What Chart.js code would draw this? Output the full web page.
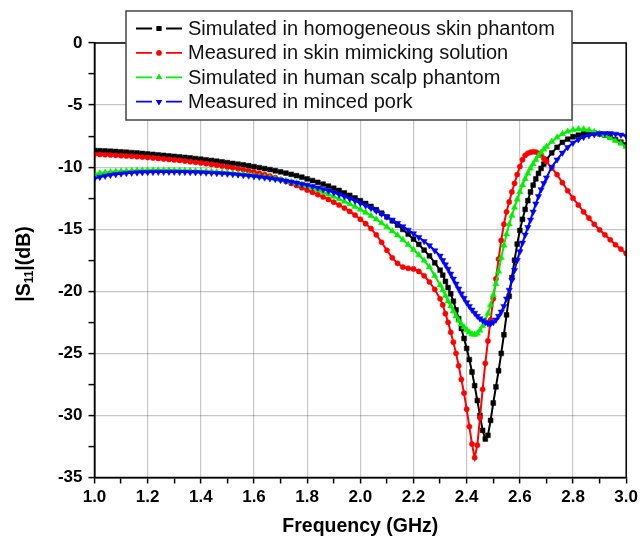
<!DOCTYPE html>
<html><head><meta charset="utf-8">
<script src="https://cdn.jsdelivr.net/npm/chart.js@4.4.1/dist/chart.umd.min.js"></script>
<style>html,body{margin:0;padding:0;background:#fff;}#wrap{width:642px;height:540px;}</style>
</head><body><div id="wrap"><canvas id="c" width="642" height="540"></canvas></div>
<script>
// Frequency (GHz) sample points
const freq = [
1.00,1.02,1.04,1.06,1.08,1.10,1.12,1.14,1.16,1.18,
1.20,1.22,1.24,1.26,1.28,1.30,1.32,1.34,1.36,1.38,
1.40,1.42,1.44,1.46,1.48,1.50,1.52,1.54,1.56,1.58,
1.60,1.62,1.64,1.66,1.68,1.70,1.72,1.74,1.76,1.78,
1.80,1.82,1.84,1.86,1.88,1.90,1.92,1.94,1.96,1.98,
2.00,2.02,2.04,2.06,2.08,2.10,2.12,2.14,2.16,2.18,
2.20,2.22,2.24,2.26,2.28,2.30,
2.31,2.32,2.33,2.34,2.35,2.36,2.37,2.38,2.39,2.40,
2.41,2.42,2.43,2.44,2.45,2.46,2.47,2.48,2.49,2.50,
2.51,2.52,2.53,2.54,2.55,2.56,2.57,2.58,2.59,2.60,
2.61,2.62,2.63,2.64,2.65,2.66,2.67,2.68,2.69,2.70,
2.72,2.74,2.76,2.78,2.80,2.82,2.84,2.86,2.88,2.90,2.92,2.94,2.96,2.98,3.00];

// |S11| (dB) — simulated in homogeneous skin phantom
const simSkin = [
-8.66,-8.68,-8.70,-8.72,-8.74,-8.77,-8.80,-8.83,-8.86,-8.90,
-8.94,-8.97,-9.01,-9.05,-9.09,-9.13,-9.17,-9.21,-9.26,-9.31,
-9.36,-9.41,-9.46,-9.52,-9.58,-9.64,-9.70,-9.76,-9.82,-9.89,
-9.96,-10.04,-10.12,-10.20,-10.29,-10.38,-10.48,-10.58,-10.69,-10.81,
-10.95,-11.08,-11.22,-11.37,-11.53,-11.70,-11.88,-12.07,-12.27,-12.48,
-12.70,-12.93,-13.17,-13.43,-13.70,-14.00,-14.32,-14.66,-15.02,-15.40,
-15.80,-16.22,-16.68,-17.15,-17.70,-18.30,
-18.7,-19.2,-19.7,-20.2,-20.8,-21.5,-22.2,-23.0,-23.8,-24.6,
-25.5,-26.5,-27.6,-28.8,-30.0,-31.2,-31.9,-31.6,-30.4,-29.0,
-27.7,-26.4,-25.0,-23.5,-21.9,-20.4,-18.9,-17.5,-16.2,-15.1,
-14.2,-13.4,-12.7,-12.0,-11.45,-10.95,-10.5,-10.1,-9.75,-9.4,
-8.85,-8.4,-8.0,-7.75,-7.55,-7.42,-7.32,-7.27,-7.27,-7.32,-7.42,-7.58,-7.78,-7.98,-8.2];

// measured in skin mimicking solution
const measSolution = [
-8.96,-8.98,-9.00,-9.02,-9.05,-9.08,-9.10,-9.13,-9.16,-9.19,
-9.22,-9.26,-9.30,-9.34,-9.38,-9.42,-9.46,-9.51,-9.56,-9.61,
-9.66,-9.72,-9.78,-9.84,-9.91,-9.98,-10.05,-10.13,-10.21,-10.29,
-10.38,-10.49,-10.60,-10.72,-10.85,-11.00,-11.15,-11.31,-11.48,-11.66,
-11.85,-12.03,-12.21,-12.40,-12.60,-12.82,-13.05,-13.30,-13.57,-13.86,
-14.20,-14.55,-14.95,-15.45,-16.05,-16.70,-17.30,-17.75,-18.05,-18.15,
-18.20,-18.40,-18.75,-19.25,-19.85,-20.60,
-21.1,-21.8,-22.5,-23.3,-24.1,-25.0,-26.0,-27.1,-28.2,-29.5,
-30.9,-32.3,-33.4,-32.4,-30.2,-27.9,-25.8,-24.0,-22.3,-20.6,
-19.0,-17.4,-15.9,-14.6,-13.6,-12.8,-12.0,-11.3,-10.6,-9.95,
-9.4,-9.05,-8.88,-8.8,-8.76,-8.78,-8.88,-9.05,-9.3,-9.55,
-10.05,-10.6,-11.25,-11.9,-12.5,-13.05,-13.6,-14.1,-14.6,-15.05,-15.45,-15.85,-16.25,-16.6,-16.95];

// simulated in human scalp phantom
const simScalp = [
-10.55,-10.48,-10.43,-10.39,-10.36,-10.33,-10.31,-10.29,-10.28,-10.27,
-10.26,-10.25,-10.25,-10.25,-10.25,-10.26,-10.27,-10.28,-10.29,-10.31,
-10.33,-10.35,-10.37,-10.40,-10.43,-10.46,-10.50,-10.54,-10.58,-10.63,
-10.68,-10.74,-10.80,-10.87,-10.94,-11.02,-11.10,-11.19,-11.29,-11.40,
-11.52,-11.67,-11.83,-12.00,-12.18,-12.37,-12.57,-12.77,-12.97,-13.18,
-13.40,-13.65,-13.92,-14.20,-14.50,-14.82,-15.15,-15.49,-15.85,-16.24,
-16.65,-17.07,-17.52,-18.05,-18.75,-19.50,
-19.9,-20.35,-20.8,-21.2,-21.6,-22.0,-22.35,-22.65,-22.9,-23.1,
-23.3,-23.45,-23.5,-23.4,-23.15,-22.8,-22.35,-21.8,-21.1,-20.3,
-19.4,-18.4,-17.3,-16.3,-15.4,-14.6,-13.9,-13.25,-12.6,-12.0,
-11.45,-10.95,-10.5,-10.1,-9.75,-9.4,-9.1,-8.82,-8.57,-8.35,
-7.95,-7.6,-7.32,-7.13,-7.0,-6.94,-6.94,-7.02,-7.15,-7.28,-7.45,-7.65,-7.88,-8.1,-8.35];

// measured in minced pork
const measPork = [
-10.92,-10.80,-10.71,-10.64,-10.58,-10.53,-10.49,-10.46,-10.44,-10.42,
-10.41,-10.40,-10.39,-10.39,-10.39,-10.39,-10.40,-10.40,-10.41,-10.42,
-10.43,-10.45,-10.47,-10.49,-10.51,-10.54,-10.57,-10.61,-10.65,-10.69,
-10.74,-10.79,-10.85,-10.91,-10.97,-11.04,-11.11,-11.19,-11.27,-11.36,
-11.45,-11.55,-11.66,-11.78,-11.91,-12.05,-12.20,-12.36,-12.53,-12.71,
-12.90,-13.10,-13.31,-13.53,-13.76,-14.00,-14.25,-14.51,-14.78,-15.06,
-15.35,-15.65,-15.97,-16.31,-16.72,-17.15,
-17.5,-17.85,-18.2,-18.6,-19.0,-19.4,-19.8,-20.2,-20.55,-20.9,
-21.2,-21.5,-21.75,-22.0,-22.2,-22.35,-22.5,-22.6,-22.6,-22.5,
-22.3,-22.0,-21.65,-21.2,-20.6,-19.9,-19.1,-18.3,-17.5,-16.8,
-16.1,-15.45,-14.85,-14.25,-13.6,-12.95,-12.35,-11.8,-11.3,-10.85,
-10.0,-9.4,-8.85,-8.4,-8.05,-7.78,-7.58,-7.45,-7.36,-7.3,-7.27,-7.28,-7.33,-7.4,-7.5];

const seriesLabels = [
  'Simulated in homogeneous skin phantom',
  'Measured in skin mimicking solution',
  'Simulated in human scalp phantom',
  'Measured in minced pork'
];
const xTickLabels = ['1.0','1.2','1.4','1.6','1.8','2.0','2.2','2.4','2.6','2.8','3.0'];
const yTickLabels = ['0','-5','-10','-15','-20','-25','-30','-35'];
const xTitle = 'Frequency (GHz)';

const FONT = "'Liberation Sans', Arial, sans-serif";
const styles = [
  {color:'#000000', point:'rect', r:3.4, rot:0, order:3},
  {color:'#ff0000', point:'circle', r:2.6, rot:0, order:2},
  {color:'#00ee00', point:'triangle', r:3.6, rot:0, order:1},
  {color:'#0000ff', point:'triangle', r:3.6, rot:180, order:0}
];
const seriesValues = [simSkin, measSolution, simScalp, measPork];

const datasets = seriesValues.map((vals, k) => ({
  label: seriesLabels[k],
  data: vals.map((y, i) => ({x: freq[i], y: y})),
  borderColor: styles[k].color,
  backgroundColor: styles[k].color,
  borderWidth: 2,
  pointStyle: styles[k].point,
  pointRadius: styles[k].r,
  pointRotation: styles[k].rot,
  pointBackgroundColor: styles[k].color,
  pointBorderColor: styles[k].color,
  pointBorderWidth: 0.5,
  tension: 0,
  order: styles[k].order
}));

const frameAndText = {
  id: 'frameAndText',
  afterDatasetsDraw(chart) {
    const {ctx, chartArea: a} = chart;
    ctx.save();
    ctx.strokeStyle = '#000';
    ctx.lineWidth = 1.5;
    ctx.strokeRect(a.left, a.top, a.right - a.left, a.bottom - a.top);
    ctx.restore();
  },
  afterDraw(chart) {
    const {ctx, chartArea: a} = chart;
    ctx.save();
    ctx.fillStyle = '#000';
    ctx.font = 'bold 19.5px ' + FONT;
    ctx.textAlign = 'center';
    ctx.textBaseline = 'middle';
    ctx.fillText(xTitle, (a.left + a.right) / 2, 527);
    ctx.translate(25, 264);
    ctx.rotate(-Math.PI / 2);
    ctx.textAlign = 'left';
    const big = 'bold 19.5px ' + FONT, small = 'bold 12px ' + FONT;
    ctx.font = big; const w1 = ctx.measureText('|S').width, w3 = ctx.measureText('|(dB)').width;
    ctx.font = small; const w2 = ctx.measureText('11').width;
    let x0 = -(w1 + w2 + w3) / 2;
    ctx.font = big; ctx.fillText('|S', x0, 0);
    ctx.font = small; ctx.fillText('11', x0 + w1, 5);
    ctx.font = big; ctx.fillText('|(dB)', x0 + w1 + w2, 0);
    ctx.restore();

    ctx.save();
    const L = 126, T = 11, R = 572, B = 120;
    ctx.fillStyle = '#fff';
    ctx.fillRect(L, T, R - L, B - T);
    ctx.strokeStyle = '#444';
    ctx.lineWidth = 1.5;
    ctx.strokeRect(L, T, R - L, B - T);
    ctx.font = '20px ' + FONT;
    ctx.textBaseline = 'middle';
    ctx.textAlign = 'left';
    for (let k = 0; k < 4; k++) {
      const y = 28.5 + k * 24.4;
      const s = styles[k];
      ctx.strokeStyle = s.color;
      ctx.lineWidth = 1.8;
      ctx.beginPath();
      ctx.moveTo(136, y); ctx.lineTo(152, y);
      ctx.moveTo(166, y); ctx.lineTo(182, y);
      ctx.stroke();
      ctx.fillStyle = s.color;
      Chart.helpers.drawPoint(ctx, {pointStyle: s.point, radius: s.r, rotation: s.rot, borderWidth: 0}, 159, y);
      ctx.fill();
      ctx.fillStyle = '#111';
      ctx.fillText(seriesLabels[k], 188, y + 1);
    }
    ctx.restore();
  }
};

new Chart(document.getElementById('c'), {
  type: 'line',
  data: { datasets },
  options: {
    responsive: false,
    animation: false,
    devicePixelRatio: 1,
    layout: { padding: { top: 43, right: 13, left: 0, bottom: 0 } },
    plugins: { legend: { display: false }, tooltip: { enabled: false } },
    scales: {
      x: {
        type: 'linear', min: 1, max: 3,
        afterFit: s => { s.height = 62.5; },
        ticks: {
          stepSize: 0.1, autoSkip: false, maxRotation: 0, padding: 4,
          color: '#000', font: { family: FONT, size: 17, weight: 'bold' },
          callback: v => { const i = Math.round((v - 1) * 10); return i % 2 === 0 ? xTickLabels[i / 2] : ''; }
        },
        grid: {
          color: c => (c.tick && Math.round((c.tick.value - 1) * 10) % 2 === 0) ? 'rgba(0,0,0,0.22)' : 'rgba(0,0,0,0)',
          lineWidth: 1.2, tickColor: '#000', tickWidth: 1.5, tickLength: 6, drawTicks: true
        },
        border: { display: true, color: '#000', width: 1.5 }
      },
      y: {
        type: 'linear', min: -35, max: 0,
        afterFit: s => { s.width = 94.5; },
        ticks: {
          stepSize: 2.5, autoSkip: false, padding: 6,
          color: '#000', font: { family: FONT, size: 17, weight: 'bold' },
          callback: v => { const i = Math.round(-v / 2.5); return i % 2 === 0 ? yTickLabels[i / 2] : ''; }
        },
        grid: {
          color: c => (c.tick && Math.round(-c.tick.value / 2.5) % 2 === 0) ? 'rgba(0,0,0,0.22)' : 'rgba(0,0,0,0)',
          lineWidth: 1.2, tickColor: '#000', tickWidth: 1.5, tickLength: 6, drawTicks: true
        },
        border: { display: true, color: '#000', width: 1.5 }
      }
    }
  },
  plugins: [frameAndText]
});
</script></body></html>
